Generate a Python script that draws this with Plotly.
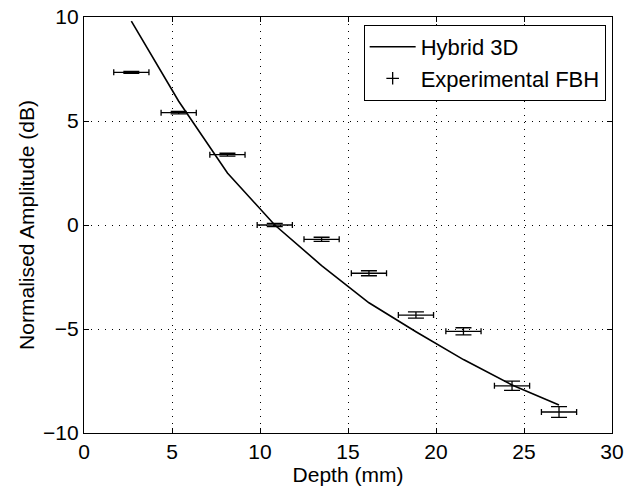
import plotly.graph_objects as go

# Flat-bottom-hole depths (mm)
depth = [2.69, 5.38, 8.15, 10.84, 13.5, 16.19, 18.86, 21.56, 24.32, 26.99]

# Hybrid 3D model prediction (dB)
hybrid_db = [9.8, 5.95, 2.5, 0.0, -1.95, -3.74, -5.13, -6.47, -7.69, -8.65]

# Experimental FBH amplitudes (dB) and their uncertainties
exp_db = [7.34, 5.4, 3.38, 0.0, -0.69, -2.32, -4.33, -5.11, -7.73, -8.99]
exp_db_err = [0.05, 0.06, 0.07, 0.08, 0.10, 0.12, 0.15, 0.17, 0.22, 0.26]
depth_err = [1.0] * len(depth)

x_ticks = [0, 5, 10, 15, 20, 25, 30]
y_ticks = [-10, -5, 0, 5, 10]

FONT = "Liberation Sans, Arial, Helvetica, sans-serif"
FS = 21

fig = go.Figure()

fig.add_trace(go.Scatter(
    x=depth, y=hybrid_db, mode="lines", name="Hybrid 3D",
    line=dict(color="black", width=1.6),
))

# Experimental points: drawn with error bars only
fig.add_trace(go.Scatter(
    x=depth, y=exp_db, mode="markers", showlegend=False,
    marker=dict(size=1, color="rgba(0,0,0,0)"),
    error_x=dict(type="data", array=depth_err, visible=True,
                 color="black", thickness=1.3, width=3),
    error_y=dict(type="data", array=exp_db_err, visible=True,
                 color="black", thickness=1.3, width=8),
))

# Legend entry for the experimental series
fig.add_trace(go.Scatter(
    x=[None], y=[None], mode="markers", name="Experimental FBH",
    marker=dict(symbol="cross-thin", size=9, color="black",
                line=dict(color="black", width=1.3)),
))

axis_common = dict(
    showline=True, linecolor="black", linewidth=1.2, mirror="ticks",
    ticks="inside", ticklen=5, tickwidth=1, tickcolor="black",
    showgrid=True, gridcolor="black", gridwidth=1, griddash="1px,6px",
    zeroline=False, automargin=False,
    tickfont=dict(family=FONT, size=FS, color="black"),
)

fig.update_xaxes(
    range=[0, 30], tickvals=x_ticks,
    title=dict(text="Depth (mm)", font=dict(family=FONT, size=FS, color="black"),
               standoff=2),
    **axis_common,
)
fig.update_yaxes(
    range=[-10, 10], tickvals=y_ticks,
    title=dict(text="Normalised Amplitude (dB)",
               font=dict(family=FONT, size=FS, color="black"), standoff=2),
    **axis_common,
)

fig.update_layout(
    width=626, height=488,
    margin=dict(l=84, r=14, t=17, b=55, autoexpand=False),
    paper_bgcolor="white", plot_bgcolor="white",
    font=dict(family=FONT, color="black"),
    legend=dict(
        x=0.988, y=0.981, xanchor="right", yanchor="top",
        bgcolor="white", bordercolor="black", borderwidth=1,
        font=dict(family=FONT, size=22, color="black"),
        tracegroupgap=0, itemwidth=46,
    ),
)

fig.write_html("out.html")
